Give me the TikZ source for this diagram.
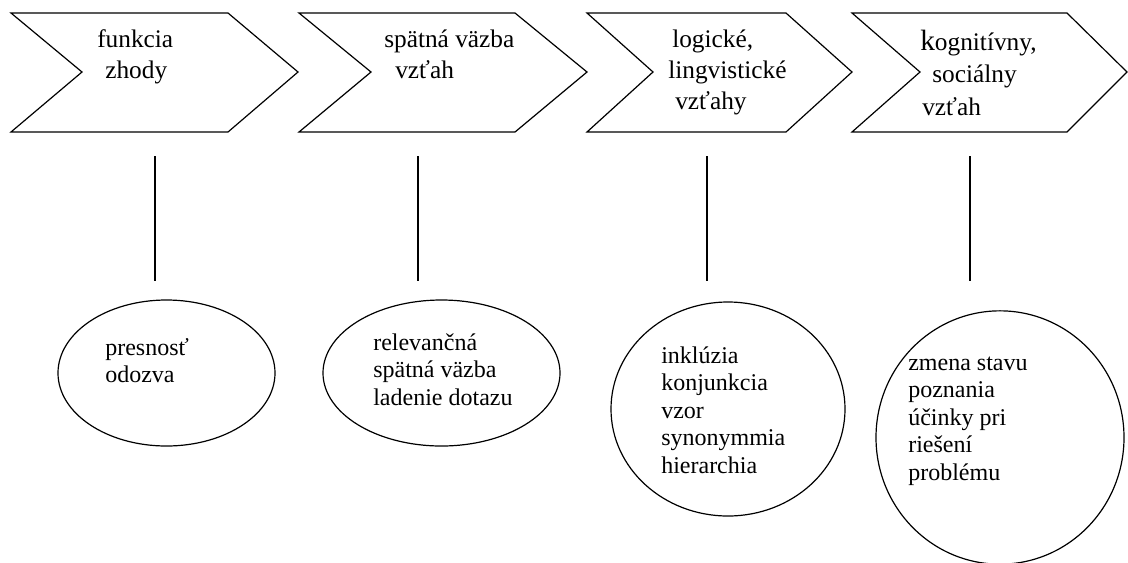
\documentclass[tikz,border=0pt]{standalone}
\usepackage{fontspec}
\setmainfont{Liberation Serif}
\usetikzlibrary{shapes.geometric}
\tikzset{
  chev/.style={draw=black, line width=0.9pt, line join=miter},
  lnk/.style={draw=black, line width=1pt},
  oval/.style={draw=black, line width=0.9pt, ellipse, inner sep=0pt},
  toplbl/.style={anchor=base west, inner sep=0pt, font=\fontsize{19}{23.25}\selectfont},
  botlbl/.style={anchor=base west, inner sep=0pt, font=\fontsize{18}{20.7}\selectfont},
}
\begin{document}
\begin{tikzpicture}[x=0.75pt, y=-0.75pt]
\useasboundingbox (0,0) rectangle (1128,562);
% chevrons
\draw[chev] (11,13) -- (228,13) -- (298,72) -- (228,132) -- (11,132) -- (82,72) -- cycle;
\draw[chev] (299,13) -- (515,13) -- (587,72) -- (515,132) -- (299,132) -- (371,72) -- cycle;
\draw[chev] (587,13) -- (786,13) -- (852,72) -- (786,132) -- (587,132) -- (653,72) -- cycle;
\draw[chev] (852,13) -- (1067,13) -- (1127,72) -- (1067,132) -- (852,132) -- (920,72) -- cycle;
% chevron labels
\node[toplbl] (t1) at (97,47) {\begin{tabular}[t]{@{}l@{}}funkcia\\\hspace*{6pt}zhody\end{tabular}};
\node[toplbl] (t2) at (384,47) {\begin{tabular}[t]{@{}l@{}}spätná väzba\\\hspace*{8.25pt}vzťah\end{tabular}};
\node[toplbl] (t3) at (668,47) {\begin{tabular}[t]{@{}l@{}}\hspace*{3pt}logické,\\lingvistické\\\hspace*{5.25pt}vzťahy\end{tabular}};
\node[toplbl, font=\fontsize{19}{24.4}\selectfont] (t4) at (920,50) {\begin{tabular}[t]{@{}l@{}}{\fontsize{22}{24.4}\selectfont k}ognitívny,\\\hspace*{9pt}sociálny\\\hspace*{1.5pt}vzťah\end{tabular}};
% connector lines
\coordinate (a1) at (155,156); \coordinate (b1) at (155,281);
\coordinate (a2) at (418,156); \coordinate (b2) at (418,281);
\coordinate (a3) at (707,156); \coordinate (b3) at (707,281);
\coordinate (a4) at (970,156); \coordinate (b4) at (970,281);
\draw[lnk] (a1) -- (b1);
\draw[lnk] (a2) -- (b2);
\draw[lnk] (a3) -- (b3);
\draw[lnk] (a4) -- (b4);
% ellipses
\node[oval, minimum width=162.75pt, minimum height=109.5pt] (e1) at (166.5,373) {};
\node[oval, minimum width=177.75pt, minimum height=109.5pt] (e2) at (441.5,373) {};
\node[oval, minimum width=175.5pt, minimum height=160.5pt] (e3) at (728,409) {};
\node[oval, minimum width=186pt, minimum height=190pt] (e4) at (1000,437.5) {};
% ellipse labels
\node[botlbl] (s1) at (105,355) {\begin{tabular}[t]{@{}l@{}}presnosť\\odozva\end{tabular}};
\node[botlbl] (s2) at (373,350) {\begin{tabular}[t]{@{}l@{}}relevančná\\spätná väzba\\ladenie dotazu\end{tabular}};
\node[botlbl] (s3) at (661,363) {\begin{tabular}[t]{@{}l@{}}inklúzia\\konjunkcia\\vzor\\synonymmia\\hierarchia\end{tabular}};
\node[botlbl] (s4) at (908,370) {\begin{tabular}[t]{@{}l@{}}zmena stavu\\poznania\\účinky pri\\riešení\\problému\end{tabular}};
\end{tikzpicture}
\end{document}
